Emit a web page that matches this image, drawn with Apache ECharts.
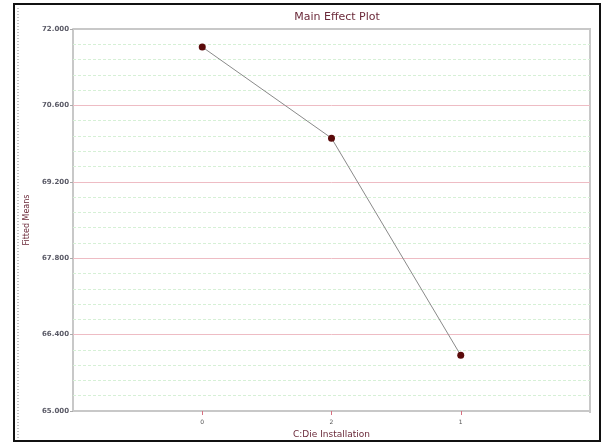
<!DOCTYPE html>
<html>
<head>
<meta charset="utf-8">
<script src="https://cdn.jsdelivr.net/npm/echarts@6/dist/echarts.min.js"></script>
<style>
  html, body { margin: 0; padding: 0; background: #fff; }
  #chart { width: 602px; height: 444px; }
</style>
</head>
<body>
<div id="chart"></div>
<script>
// Factor levels of C:Die Installation (padded with empty slots at both ends)
const levels = ['', '0', '2', '1', ''];
// Fitted means at each level
const fittedMeans = [null, 71.67, 70.0, 66.02, null];
// Y axis range and step
const yMin = 65.0;
const yMax = 72.0;
const yStep = 1.4;
// Minor grid: five sub-steps per major step
const minorPerMajor = 5;

const chart = echarts.init(document.getElementById('chart'));

// grid line values, on the fitted-means scale
const majorCount = Math.round((yMax - yMin) / yStep);
const majorLines = [];
const minorLines = [];
for (let i = 1; i < majorCount; i++) majorLines.push({ yAxis: +(yMin + i * yStep).toFixed(3) });
for (let i = 1; i < majorCount * minorPerMajor; i++) {
  if (i % minorPerMajor !== 0) minorLines.push({ yAxis: +(yMin + i * yStep / minorPerMajor).toFixed(3) });
}

chart.setOption({
  backgroundColor: '#ffffff',
  animation: false,
  title: {
    text: 'Main Effect Plot',
    left: 332,
    top: 7,
    textAlign: 'center',
    textStyle: { color: '#6b2a3a', fontSize: 11, fontWeight: 'normal', fontFamily: 'DejaVu Sans' }
  },
  grid: { left: 73, right: 12, top: 29, bottom: 31 },
  xAxis: {
    type: 'category',
    data: levels,
    boundaryGap: false,
    name: 'C:Die Installation',
    nameLocation: 'middle',
    nameGap: 19,
    nameTextStyle: { color: '#6b2a3a', fontSize: 9, fontFamily: 'DejaVu Sans' },
    axisLine: { lineStyle: { color: '#c8c8c8', width: 2 } },
    axisTick: {
      interval: (i, v) => v !== '',
      length: 4,
      lineStyle: { color: '#d87080', width: 1 }
    },
    axisLabel: {
      interval: 0,
      color: '#555',
      fontSize: 6,
      margin: 8,
      fontFamily: 'DejaVu Sans'
    },
    splitLine: { show: false }
  },
  yAxis: {
    type: 'value',
    min: yMin,
    max: yMax,
    interval: yStep,
    name: 'Fitted Means',
    nameLocation: 'middle',
    nameGap: 35,
    nameTextStyle: { color: '#6b2a3a', fontSize: 8, fontFamily: 'DejaVu Sans' },
    axisLine: { show: true, lineStyle: { color: '#c8c8c8', width: 2 } },
    axisTick: { show: true, length: 3, lineStyle: { color: '#aaa' } },
    axisLabel: {
      color: '#5a5a66',
      fontSize: 7,
      fontWeight: 'bold',
      margin: 4,
      fontFamily: 'DejaVu Sans',
      formatter: v => v.toFixed(3)
    },
    splitLine: { show: false },
    minorSplitLine: { show: false }
  },
  graphic: [
    {
      // outer frame
      type: 'rect',
      shape: { x: 14, y: 4, width: 586, height: 437 },
      style: { fill: 'none', stroke: '#111', lineWidth: 2 },
      silent: true
    },
    {
      // dotted rule along the left edge
      type: 'line',
      shape: { x1: 18, y1: 8, x2: 18, y2: 438 },
      style: { stroke: '#888', lineWidth: 1, lineDash: [1, 2] },
      silent: true
    },
    {
      // top and right border of the plot area
      type: 'polyline',
      shape: { points: [[73, 29], [590, 29], [590, 413]] },
      style: { stroke: '#c8c8c8', lineWidth: 2, fill: 'none' },
      silent: true
    }
  ],
  series: [
    {
      // minor grid
      type: 'line',
      data: [],
      silent: true,
      z: 1,
      markLine: {
        silent: true,
        symbol: 'none',
        label: { show: false },
        lineStyle: { color: '#d6f0d6', type: [3, 2], width: 1 },
        data: minorLines
      }
    },
    {
      // major grid
      type: 'line',
      data: [],
      silent: true,
      z: 2,
      markLine: {
        silent: true,
        symbol: 'none',
        label: { show: false },
        lineStyle: { color: '#eebcc4', type: 'solid', width: 1 },
        data: majorLines
      }
    },
    {
      type: 'line',
      data: fittedMeans,
      connectNulls: false,
      symbol: 'circle',
      symbolSize: 7,
      itemStyle: { color: '#5a0a0a' },
      lineStyle: { color: '#8a8a8a', width: 1 },
      z: 5
    }
  ]
});
</script>
</body>
</html>
